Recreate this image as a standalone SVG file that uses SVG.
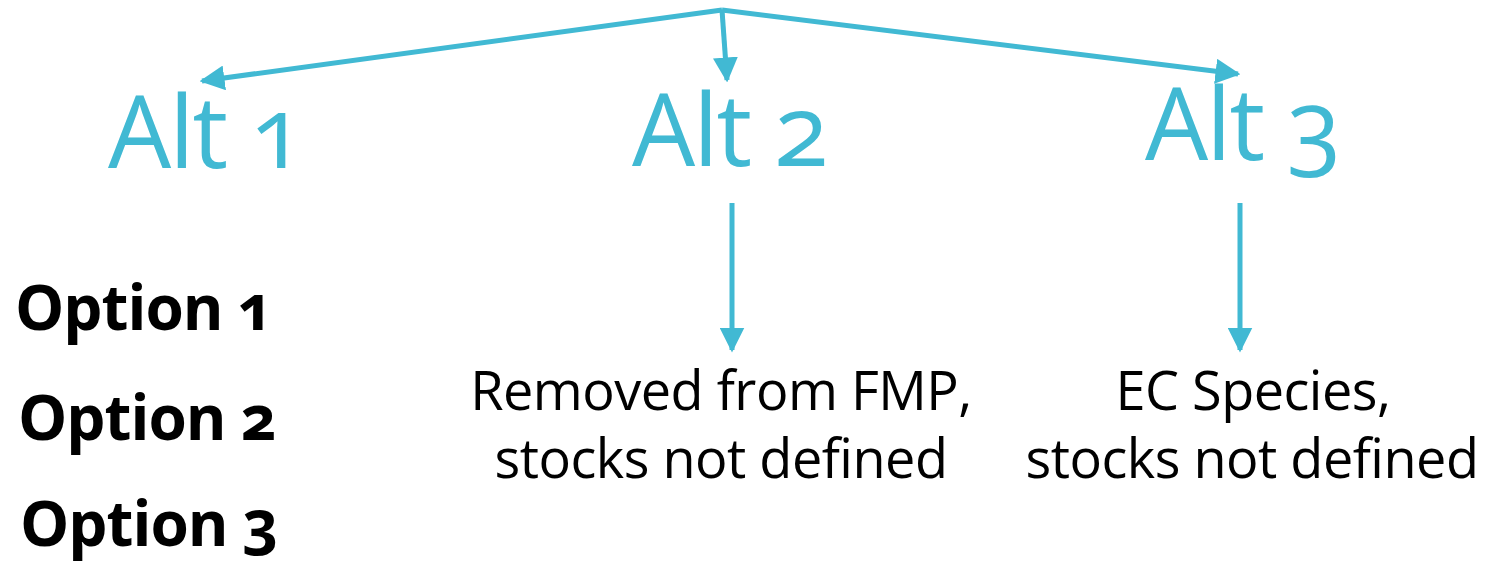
<svg xmlns="http://www.w3.org/2000/svg" width="1493" height="566" viewBox="0 0 1493 566">
<defs>
<style>
.alt{font-family:"Open Sans","Noto Sans",sans-serif;font-size:100px;fill:#41B9D3;font-variant-numeric:oldstyle-nums;font-feature-settings:"onum" 1;letter-spacing:-2px;}
.opt{font-family:"Open Sans","Noto Sans",sans-serif;font-size:62px;font-weight:bold;fill:#000;font-feature-settings:"onum" 1;letter-spacing:-1px;}
.lbl{font-family:"Open Sans","Noto Sans",sans-serif;font-size:54px;fill:#000;text-anchor:middle;letter-spacing:-0.5px;}
.c{stroke:#41B9D3;stroke-width:5;fill:none;marker-end:url(#ah);}
</style>
<marker id="ah" viewBox="0 0 10 10" refX="9" refY="5" markerWidth="5" markerHeight="5" orient="auto" markerUnits="strokeWidth">
<path d="M0,0 L10,5 L0,10 z" fill="#41B9D3"/>
</marker>
</defs>
<rect width="1493" height="566" fill="#fff"/>
<g id="connectors">
<path class="c" d="M722,10 L202,81"/>
<path class="c" d="M722,10 L727,80"/>
<path class="c" d="M722,10 L1238,74"/>
<path class="c" d="M732,203 L732,350"/>
<path class="c" d="M1240,203 L1240,350"/>
</g>
<g id="alt1"><text class="alt" x="108" y="168">Alt 1</text></g>
<g id="alt2"><text class="alt" x="632" y="166">Alt 2</text></g>
<g id="alt3"><text class="alt" x="1145" y="160">Alt 3</text></g>
<g id="option1"><text class="opt" x="15" y="330">Option 1</text></g>
<g id="option2"><text class="opt" x="18" y="440">Option 2</text></g>
<g id="option3"><text class="opt" x="20" y="546">Option 3</text></g>
<g id="removed"><text class="lbl" x="721" y="410">Removed from FMP,</text><text class="lbl" x="721" y="478">stocks not defined</text></g>
<g id="ec"><text class="lbl" x="1253" y="410">EC Species,</text><text class="lbl" x="1252" y="478">stocks not defined</text></g>
</svg>
